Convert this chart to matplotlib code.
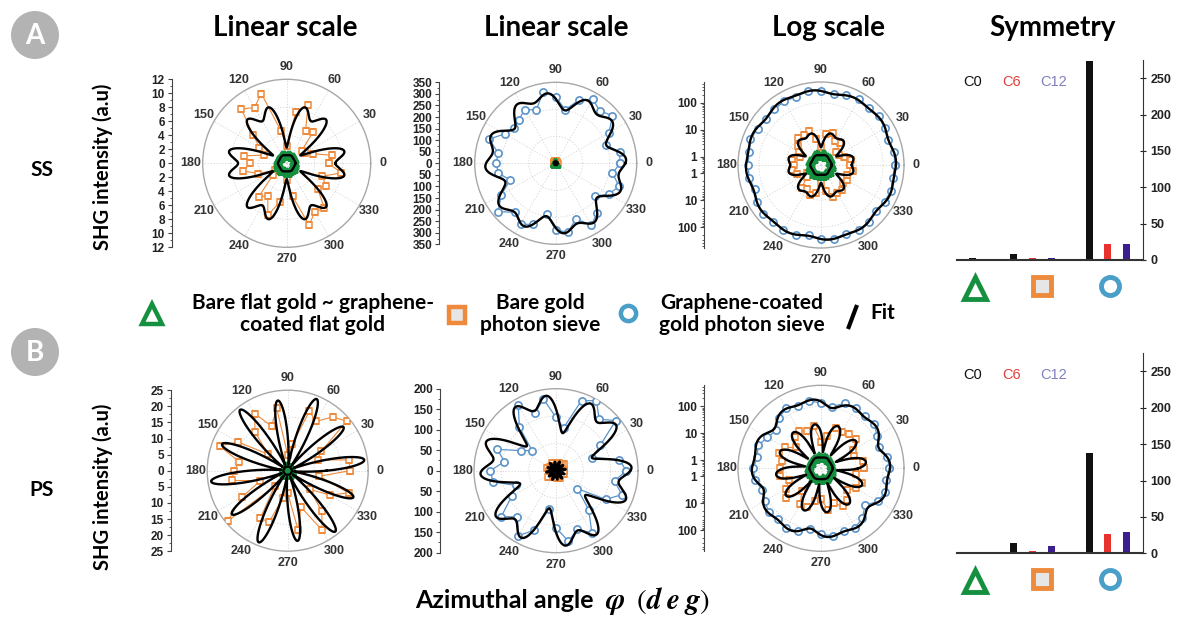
import numpy as np
import matplotlib.pyplot as plt
from matplotlib.patches import Circle
from matplotlib.ticker import FixedLocator, MultipleLocator

plt.rcParams['font.family'] = ['Liberation Sans', 'DejaVu Sans']
plt.rcParams['mathtext.fontset'] = 'stix'

W, H = 1180, 627

# measured azimuthal angles (deg)
angles = np.arange(0, 360, 10)

# SS polarisation: SHG intensity (a.u.)
ss_triangle = [1.25, 1.2, 1.1, 1.3, 1.35, 1.2, 1.15, 1.3, 1.25, 1.1, 1.2, 1.3,
               1.35, 1.2, 1.1, 1.25, 1.3, 1.2, 1.15, 1.25, 1.35, 1.2, 1.1, 1.3,
               1.25, 1.2, 1.15, 1.3, 1.35, 1.2, 1.1, 1.25, 1.3, 1.2, 1.15, 1.25]
ss_square = [6.0, 6.6, 4.0, 3.0, 2.8, 5.9, 5.4, 8.9, 7.4, 2.4, 4.7, 10.6,
             9.2, 10.1, 6.2, 4.5, 3.4, 6.2, 5.2, 6.3, 4.3, 2.0, 2.5, 6.2,
             5.4, 7.9, 5.6, 2.4, 4.8, 9.4, 8.0, 8.4, 5.8, 6.5, 5.4, 7.9]
ss_circle = [278, 280, 230, 266, 320, 296, 320, 290, 235, 288, 313, 245,
             268, 247, 235, 254, 306, 252, 258, 251, 209, 271, 325, 276,
             304, 281, 224, 288, 302, 256, 308, 280, 222, 265, 292, 249]

# PS polarisation
ps_triangle = [1.3, 1.35, 1.2, 1.4, 1.3, 1.25, 1.4, 1.35, 1.2, 1.3, 1.4, 1.3,
               1.25, 1.35, 1.4, 1.2, 1.3, 1.35, 1.4, 1.25, 1.3, 1.35, 1.2, 1.4,
               1.3, 1.25, 1.4, 1.35, 1.2, 1.3, 1.4, 1.3, 1.25, 1.35, 1.4, 1.3]
ps_square = [19.3, 19.3, 9.9, 12.0, 23.9, 21.8, 17.7, 19.6, 8.3, 4.9, 19.7, 14.7,
             20.5, 15.8, 8.0, 17.8, 22.5, 15.2, 16.8, 17.5, 9.0, 16.3, 24.3, 6.3,
             16.9, 17.1, 8.5, 7.0, 18.8, 12.0, 21.3, 16.5, 9.0, 15.2, 20.1, 10.0]
ps_circle = [171, 157, 94, 125, 190, 164, 197, 182, 106, 130, 178, 149,
             184, 139, 76, 98, 152, 128, 160, 156, 105, 125, 174, 147,
             183, 154, 95, 139, 175, 152, 175, 124, 68, 140, 171, 145]

# fit coefficients [C0, C6, C12] and phases [deg of C6, deg of C12]
fit_ss_triangle, ph_ss_triangle = [1.2, 0.05, 0.0], [0, 0]
fit_ss_square, ph_ss_square = [6.3, 2.35, 1.7], [0, 15]
fit_ss_circle, ph_ss_circle = [278, 22, 24], [50, 5]
fit_ps_triangle, ph_ps_triangle = [1.3, 0.05, 0.0], [0, 0]
fit_ps_square, ph_ps_square = [12.5, 1.0, 10.5], [8, 8]
fit_ps_circle, ph_ps_circle = [152, 31, 28], [50, 5]

# symmetry components per sample (triangle, square, circle)
ss_c0 = [2.3, 7.8, 273]
ss_c6 = [0.0, 3.2, 21.5]
ss_c12 = [0.0, 3.2, 21.5]
ps_c0 = [1.5, 14.5, 138]
ps_c6 = [0.0, 3.7, 26]
ps_c12 = [0.0, 10.5, 29]

GREEN = '#15903f'
ORANGE = '#ee8a3c'
BLUE = '#5b93c9'
RING = '#4a9fc8'

fig = plt.figure(figsize=(W / 100, H / 100), dpi=100)


def px_rect(x0, y0, w, h):
    return [x0 / W, 1 - (y0 + h) / H, w / W, h / H]


phi = np.linspace(0, 2 * np.pi, 1441)


def fit_radius(coef, phase):
    c0, c6, c12 = coef
    p6, p12 = np.deg2rad(phase)
    return c0 + c6 * np.cos(6 * (phi - p6)) + c12 * np.cos(12 * (phi - p12))


def closed(vals):
    th = np.deg2rad(np.append(angles, angles[0]))
    return th, np.append(vals, vals[0])


def polar_panel(cx, cy, rpx, rmax, data, fits, log=False):
    ax = fig.add_axes(px_rect(cx - rpx, cy - rpx, 2 * rpx, 2 * rpx), projection='polar')
    styles = {
        'circle': dict(color=BLUE, lw=0.9, marker='o', ms=5.2, mfc='white', mec=BLUE, mew=1.2),
        'square': dict(color=ORANGE, lw=0.8, marker='s', ms=4.6, mfc='white', mec=ORANGE, mew=1.1),
        'triangle': dict(color=GREEN, lw=0.8, marker='^', ms=5.5, mfc=GREEN, mec=GREEN, mew=1.2),
    }
    for kind, vals in data:
        th, r = closed(vals)
        ax.plot(th, r, zorder=3, **styles[kind])
    for coef, phase in fits:
        ax.plot(phi, fit_radius(coef, phase), color='black', lw=1.7, zorder=4)
    if log:
        ax.set_rscale('log')
        ax.set_rlim(0.5, rmax)
        ax.set_yticks([1, 10, 100])
    else:
        ax.set_rlim(0, rmax)
        ax.set_yticks(np.linspace(0, rmax, 4)[1:3])
    ax.set_yticklabels([])
    ax.set_thetagrids(range(0, 360, 30), [str(a) for a in range(0, 360, 30)],
                      fontsize=9, fontweight='bold', color='#333333')
    ax.tick_params(axis='x', pad=-2)
    ax.grid(color='#d4d4d4', lw=0.6, ls=(0, (1.5, 2)))
    ax.spines['polar'].set_color('#a8a8a8')
    ax.spines['polar'].set_linewidth(1.0)
    return ax


def radial_scale(x, cy, rpx, rmax, step=None, log=False):
    ax = fig.add_axes(px_rect(x, cy - rpx, 1, 2 * rpx))
    for s in ('top', 'right', 'bottom'):
        ax.spines[s].set_visible(False)
    ax.spines['left'].set_color('#444444')
    ax.patch.set_visible(False)
    ax.set_xticks([])
    if log:
        f = lambda v: np.log10(np.asarray(v, float) / 0.5)
        top = f(rmax)
        major = f([1, 10, 100])
        ax.set_ylim(-top, top)
        ax.set_yticks(np.concatenate([-major[::-1], major]))
        ax.set_yticklabels(['100', '10', '1', '1', '10', '100'])
        mvals = np.array([k * 10.0 ** d for d in range(-1, 3) for k in range(2, 10)])
        mvals = mvals[(mvals > 0.5) & (mvals < rmax)]
        ax.yaxis.set_minor_locator(FixedLocator(np.concatenate([-f(mvals), f(mvals)])))
    else:
        ax.set_ylim(-rmax, rmax)
        ticks = np.arange(-rmax, rmax + step / 2, step)
        ax.set_yticks(ticks)
        ax.set_yticklabels([f'{abs(t):g}' for t in ticks])
        ax.yaxis.set_minor_locator(MultipleLocator(step / 2))
    ax.tick_params(axis='y', which='major', length=3, width=0.8, color='#444444',
                   labelsize=8.5, pad=2, labelcolor='#222222')
    ax.tick_params(axis='y', which='minor', length=1.8, width=0.6, color='#444444')
    for lab in ax.get_yticklabels():
        lab.set_fontweight('bold')
    return ax


def bar_panel(y_base, c0, c6, c12):
    ax = fig.add_axes(px_rect(956.7, y_base - 200, 186.6, 200))
    pos = np.array([0.87, 3.06, 7.1])
    ax.bar(pos, c0, width=0.38, color='#111111')
    ax.bar(pos + 1, c6, width=0.38, color='#e8322e')
    ax.bar(pos + 2, c12, width=0.38, color='#3b1f8f')
    ax.set_xlim(0, 10)
    ax.set_ylim(0, 275)
    for s in ('top', 'left'):
        ax.spines[s].set_visible(False)
    ax.spines['right'].set_color('#333333')
    ax.spines['bottom'].set_linewidth(1.5)
    ax.spines['bottom'].set_color('#333333')
    ax.set_xticks([])
    ax.yaxis.tick_right()
    ax.set_yticks(range(0, 251, 50))
    ax.tick_params(axis='y', direction='inout', length=4, labelsize=9, pad=3, colors='#222222')
    for lab in ax.get_yticklabels():
        lab.set_fontweight('bold')
    ax.text(0.86, 245, 'C0', color='#111111', fontsize=10.5, ha='center', va='center')
    ax.text(2.95, 245, 'C6', color='#e0403a', fontsize=10.5, ha='center', va='center')
    ax.text(5.2, 245, 'C12', color='#8080c0', fontsize=10.5, ha='center', va='center')
    tr = ax.get_xaxis_transform()
    ax.plot(0.98, -0.14, transform=tr, clip_on=False, marker='^', ms=16, mfc='white',
            mec=GREEN, mew=3.5)
    ax.plot(4.57, -0.13, transform=tr, clip_on=False, marker='s', ms=13, mfc='#e6e6e6',
            mec=ORANGE, mew=3.5)
    ax.plot(8.2, -0.13, transform=tr, clip_on=False, marker='o', ms=13, mfc='white',
            mec=RING, mew=3.5)
    return ax


# SS row
polar_panel(286.7, 163.3, 84, 12, [('square', ss_square), ('triangle', ss_triangle)],
            [(fit_ss_square, ph_ss_square), (fit_ss_triangle, ph_ss_triangle)])
radial_scale(171.7, 163.3, 84, 12, step=2)
polar_panel(555.7, 163.3, 81, 350,
            [('circle', ss_circle), ('square', ss_square), ('triangle', ss_triangle)],
            [(fit_ss_circle, ph_ss_circle), (fit_ss_square, ph_ss_square),
             (fit_ss_triangle, ph_ss_triangle)])
radial_scale(439.3, 163.3, 81, 350, step=50)
polar_panel(821, 165, 83, 600,
            [('circle', ss_circle), ('square', ss_square), ('triangle', ss_triangle)],
            [(fit_ss_circle, ph_ss_circle), (fit_ss_square, ph_ss_square),
             (fit_ss_triangle, ph_ss_triangle)], log=True)
radial_scale(704, 165, 83, 600, log=True)
bar_panel(260, ss_c0, ss_c6, ss_c12)

# PS row
polar_panel(287.7, 470.7, 80.5, 25, [('square', ps_square), ('triangle', ps_triangle)],
            [(fit_ps_square, ph_ps_square), (fit_ps_triangle, ph_ps_triangle)])
radial_scale(170.7, 470.7, 80.5, 25, step=5)
polar_panel(556, 470.7, 82, 200,
            [('circle', ps_circle), ('square', ps_square), ('triangle', ps_triangle)],
            [(fit_ps_circle, ph_ps_circle), (fit_ps_square, ph_ps_square),
             (fit_ps_triangle, ph_ps_triangle)])
radial_scale(440, 470.7, 82, 200, step=50)
polar_panel(821, 468.3, 83, 600,
            [('circle', ps_circle), ('square', ps_square), ('triangle', ps_triangle)],
            [(fit_ps_circle, ph_ps_circle), (fit_ps_square, ph_ps_square),
             (fit_ps_triangle, ph_ps_triangle)], log=True)
radial_scale(704.3, 468.3, 83, 600, log=True)
bar_panel(553.3, ps_c0, ps_c6, ps_c12)

# annotation layer in pixel coordinates
ov = fig.add_axes([0, 0, 1, 1])
ov.set_xlim(0, W)
ov.set_ylim(H, 0)
ov.axis('off')

LATO = ['Lato', 'DejaVu Sans']
for label, cy in (('A', 35), ('B', 352)):
    ov.add_patch(Circle((35, cy), 24, color='#b3b3b3', lw=0))
    ov.text(35, cy + 1, label, color='white', fontsize=20, fontweight='bold',
            ha='center', va='center', family=LATO)

for label, x in (('Linear scale', 285), ('Linear scale', 556), ('Log scale', 829),
                 ('Symmetry', 1052)):
    ov.text(x, 28, label, fontsize=20, fontweight='bold', ha='center', va='center',
            family=LATO)

for label, y in (('SS', 170), ('PS', 490)):
    ov.text(42, y, label, fontsize=15, fontweight='bold', ha='center', va='center',
            family=LATO)
    ov.text(103, y - 3, 'SHG intensity (a.u)', fontsize=14.5, fontweight='bold',
            rotation=90, ha='center', va='center', family=LATO)

# legend row
ov.plot(152, 314, marker='^', ms=14, mfc='white', mec=GREEN, mew=3.2)
ov.plot(457, 315, marker='s', ms=11, mfc='#e6e6e6', mec=ORANGE, mew=3.2)
ov.plot(628, 313, marker='o', ms=11, mfc='white', mec=RING, mew=3.2)
ov.plot([848, 857], [329, 305], color='black', lw=3, solid_capstyle='butt')
legend_text = [
    ('Bare flat gold ~ graphene-\ncoated flat gold', 313),
    ('Bare gold\nphoton sieve', 540),
    ('Graphene-coated\ngold photon sieve', 742),
]
for label, x in legend_text:
    ov.text(x, 314, label, fontsize=15, fontweight='bold', ha='center', va='center',
            linespacing=1.1, family=LATO)
ov.text(883, 313, 'Fit', fontsize=15, fontweight='bold', ha='center', va='center',
        family=LATO)

# bottom axis caption
ov.text(594, 601, 'Azimuthal angle', fontsize=18, fontweight='bold', ha='right',
        va='center', family=LATO)
ov.text(605, 601, r'$\mathbfit{\varphi}\;\;(\mathbfit{d\;e\;g})$', fontsize=21,
        ha='left', va='center')

fig.savefig('out.png', dpi=100, facecolor='white')
